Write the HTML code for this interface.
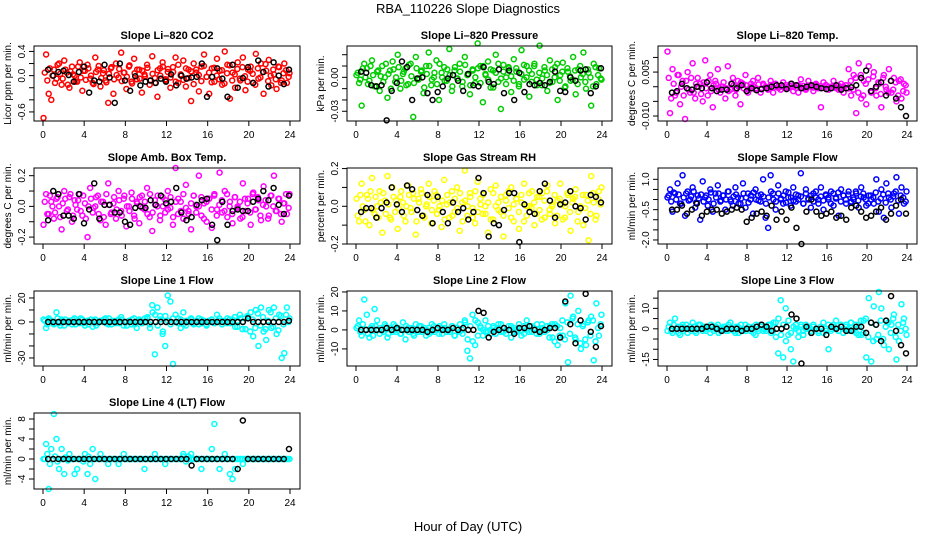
<!DOCTYPE html>
<html><head><meta charset="utf-8"><style>
html,body{margin:0;padding:0;background:#fff;}
svg{display:block;font-family:"Liberation Sans",sans-serif;}
</style></head><body>
<svg id="c" width="936" height="540" viewBox="0 0 936 540">
<text x="468" y="13" text-anchor="middle" font-size="13">RBA_110226  Slope Diagnostics</text>
<text x="468" y="531" text-anchor="middle" font-size="13">Hour of Day (UTC)</text>
</svg>
<script>
// ---- data (colored = all samples in two passes, black = hourly subset) ----
const co2C=[-70,35,-30,-40,10,-5,20,-15,25,5,-20,15,0,-10,22,-25,8,18,-5,-12,30,10,-18,4,-8,-45,12,-30,20,-3,38,5,-22,15,-10,28,-6,10,-28,2,18,-15,32,-4,-35,12,22,-8,6,-20,14,30,-12,0,25,-18,10,-42,20,5,-26,15,35,-2,-30,12,-10,28,8,-15,40,18,-38,5,-20,22,-8,30,-24,10,15,-12,36,-5,20,-30,8,26,-16,2,-22,14,-8,20,-12,4];
const co2C2=[5,-8,12,0,-12,18,3,-5,10,-15,7,2,-10,15,-3,8,-7,12,0,-14,6,16,-4,9,-11,3,14,-6,1,11,-9,5,-2,17,-13,4,10,-5,8,-1,13,-8,3,-12,9,0,15,-6,11,-3,6,-10,18,2,-7,12,-4,7,-14,10,1,-9,16,-2,5,-11,13,0,-6,9,-13,4,17,-8,2,11,-5,14,-1,-10,8,3,-15,12,-3,6,19,-9,0,10,-6,15,-12,4,9,-2];
const co2K=[10,0,6,8,1,-10,6,15,-28,-8,-10,18,-3,-45,20,-8,-25,-1,-16,-10,-8,-12,-5,-10,2,-16,0,-5,-3,-2,20,-35,-2,12,-5,-35,18,-20,-4,14,-12,25,6,-18,22,0,-14,10];
const presC=[2,-5,-25,12,8,-3,15,-8,5,-12,10,0,-18,6,14,-4,20,-10,3,8,-6,12,-35,18,-2,5,-14,10,22,-7,0,15,-20,4,9,-3,25,-12,6,-1,12,-8,18,2,-15,7,-5,30,10,-22,3,14,-9,6,20,-4,-28,11,0,8,-13,16,5,-6,24,-2,10,-17,3,12,-7,28,-1,6,-12,15,-4,9,-20,2,13,-8,5,-3,18,-15,7,0,22,-10,4,-25,12,-6,8,-2];
const presC2=[4,-2,8,0,-6,10,2,-8,6,1,-4,12,3,-10,7,0,9,-3,5,-7,11,1,-5,8,-1,6,-9,3,10,-2,4,-6,12,0,-3,7,2,-8,9,-1,5,-4,11,3,-7,6,0,8,-5,10,2,-2,7,-9,4,12,-1,5,-6,9,1,-3,8,-8,3,11,0,6,-4,10,-2,4,-7,9,2,-5,7,0,12,-3,5,-9,8,1,-2,6,-6,10,3,-4,7,0,-8,9,2,-1];
const presK=[5,4,-7,-8,-7,-38,-12,-5,14,9,-20,-1,0,-14,-20,-13,-8,-1,2,-3,-12,3,-7,-8,9,-4,-6,7,-14,6,-20,4,-13,-6,-7,-5,-7,-4,5,-12,-13,0,-3,6,7,-14,-8,8];
const tmpC=[120,-90,60,-30,40,-60,20,-110,50,-20,80,-40,30,10,-50,90,-30,40,-70,20,60,-20,0,-40,70,-10,30,-30,20,-60,10,40,-20,0,20,-10,30,-20,10,0,-10,20,-20,10,0,-10,15,-5,0,10,-15,5,-20,25,-5,-10,20,0,-15,10,-5,-70,15,5,-10,0,20,-5,-10,10,-20,5,60,-30,40,-90,80,-40,20,-60,70,-20,50,-30,10,-70,40,-10,60,-20,30,-50,20,-40,10,-20];
const tmpC2=[30,-40,10,-20,40,0,-30,20,-10,30,-20,10,0,-25,15,-5,20,-15,5,10,-10,0,15,-5,-15,10,5,-10,0,15,-5,5,-10,10,0,-5,8,-8,5,0,-6,6,-3,4,-4,2,-2,6,-5,3,0,-4,5,-2,3,-6,4,0,-3,5,-1,2,-4,6,0,-5,3,-2,4,-3,1,5,-6,20,-10,30,-20,40,-30,10,25,-15,35,-5,15,-25,30,0,-20,20,-10,15,-30,25,-15,5];
const tmpK=[-20,-15,10,-5,-10,0,-5,15,-5,-15,-10,-10,10,-5,5,-15,-5,-12,-8,-5,0,5,5,-8,10,5,-5,0,5,0,-5,-8,-5,5,-10,-5,-2,5,30,55,-15,0,15,-30,20,-40,-70,-100];
const ambC=[-12,8,-5,3,-8,5,0,-15,10,-3,6,-10,4,-2,8,-6,2,-20,12,-4,0,7,-9,3,-12,15,-5,2,-8,10,-3,5,-13,0,9,-6,3,-11,7,-2,12,-7,-16,4,0,-9,6,-4,10,-1,-12,25,-5,3,-8,14,-3,-15,7,0,20,-6,2,-10,5,-14,8,-2,22,-4,10,-7,3,-11,6,0,-8,15,-3,5,-12,9,-2,4,-9,13,0,-6,7,20,-3,5,-10,2,-5,8];
const ambC2=[3,-5,7,0,-4,6,-7,2,5,-2,8,-6,1,4,-3,7,-8,0,5,-1,6,-5,3,-7,8,1,-4,6,-2,4,-6,7,0,-3,5,-8,2,6,-1,3,-5,8,-4,1,7,-6,0,4,-2,6,-7,3,5,-3,8,-1,-5,2,7,-4,0,6,-8,3,5,-2,7,-6,1,4,-3,8,0,-5,6,-1,3,-7,5,2,-4,8,-2,6,-6,1,4,-8,7,0,-3,5,-5,2,8,-1];
const ambK=[-9,10,8,-6,-6,-8,8,-11,-2,15,-8,1,1,-4,-4,-10,-12,-1,0,-1,4,1,7,2,3,12,-4,-9,-7,1,4,5,-12,-22,3,-12,-3,-2,-3,-3,3,5,10,4,12,1,-5,7];
const rhC=[4,-8,12,-2,6,-10,15,-4,0,8,-14,3,16,-6,10,-3,-12,5,2,-8,11,-1,7,-15,4,9,-5,0,12,-9,3,6,-2,-11,14,1,-6,8,-3,10,-13,2,19,-5,7,-1,-9,13,4,-4,0,-14,9,-7,11,2,-3,-16,6,-1,10,-8,4,-12,2,12,-5,0,8,-10,5,-2,7,-6,11,-4,1,-9,3,12,-7,0,6,-13,4,9,-3,-1,-10,6,-18,16,2,-5,8,10];
const rhC2=[-5,6,0,-8,4,8,-2,5,-6,2,7,-4,1,-7,5,3,-1,8,-5,0,6,-3,4,-8,2,7,-6,1,5,-2,8,-4,0,3,-7,6,2,-5,4,-1,7,-8,3,0,5,-6,8,-3,1,6,-4,2,-7,7,0,-2,5,-5,3,8,-6,1,4,-3,6,-8,0,7,-1,2,-4,5,-7,3,8,-2,0,6,-5,4,1,-6,7,-3,2,5,-8,0,6,-1,3,-4,7,-7,4,1];
const rhK=[-3,-1,-1,-6,-1,2,10,1,-3,11,9,-2,-5,6,-9,5,-3,-9,2,-3,-1,-7,-3,15,7,-16,-9,-10,-2,7,7,-19,1,-3,-4,8,12,3,-6,1,2,8,0,-1,-7,6,5,2];
const sfC=[10,50,-60,30,80,-20,120,-80,40,0,60,-40,20,-100,90,10,-30,50,-60,30,70,-10,20,-50,40,0,-30,60,10,-20,80,-40,30,0,-70,50,20,-10,100,-90,-140,120,30,-50,70,0,-20,40,10,-30,60,-10,20,130,-20,50,0,-40,30,10,-20,60,-50,20,0,40,-30,10,-80,50,20,-20,40,-10,0,30,-40,60,10,-30,20,0,-20,100,-60,50,-90,80,10,-40,30,110,-70,60,-20,40];
const sfC2=[20,-10,35,0,25,-20,10,30,-5,15,40,-15,5,25,-10,20,0,35,-20,10,30,-5,20,0,40,-10,15,25,-20,5,30,10,-15,20,35,0,-5,25,15,-20,10,40,0,-10,30,5,20,-15,35,10,-5,25,0,15,-20,30,5,20,-10,40,0,15,-5,25,10,-20,30,5,35,-10,20,0,25,-15,10,40,-5,15,30,0,-20,20,10,35,-10,5,25,-15,30,0,15,40,-5,20,10,-10];
const sfK=[-50,-50,-30,-70,-50,-20,-80,-60,-50,-50,-70,-60,-50,-40,-50,-110,-90,-70,-60,-80,-30,-100,-60,-100,-40,-140,-220,-60,0,-60,-80,-70,-60,-90,-80,-100,-40,-30,-60,-90,-80,-60,-40,-100,-70,-30,0,-70];
const l1C=[2,-5,3,1,-2,8,-1,2,-3,0,1,-2,3,0,-1,2,-3,1,0,-4,2,-1,1,0,3,-2,0,1,-1,2,4,-3,0,1,-2,3,-5,2,-1,0,3,-2,14,-27,12,5,-10,-20,22,17,-35,6,3,-5,8,-3,1,2,-2,0,3,-1,1,-2,0,2,-1,6,1,-2,0,3,-1,2,-4,1,3,0,-6,4,8,-12,10,-20,12,-8,-15,10,-5,12,-10,6,-30,-26,12,3];
const l1C2=[1,-2,2,0,-1,3,-3,1,2,-1,0,2,-2,1,3,-1,0,-2,2,1,-3,0,1,2,-1,3,-2,0,1,-1,2,0,-3,1,2,-2,0,1,-1,3,4,-5,8,6,-3,2,-8,5,1,-2,3,0,-1,2,-2,1,0,3,-1,1,-2,2,0,-3,1,2,-1,0,3,-2,1,-1,2,0,4,-4,6,-6,3,5,-8,2,-5,7,-3,4,-6,1,8,-4,3,-7,5,-2,6,0];
const l1K=[0,0,0,0,0,0,0,0,0,0,0,0,0,0,0,0,0,0,0,0,0,0,0,0,0,0,0,0,0,0,0,0,0,0,0,0,0,0,0,3,0,0,0,0,0,0,0,1];
const l2C=[1,5,-3,16,8,-4,2,11,5,-2,0,3,-4,1,-1,2,0,-2,4,-5,1,0,-2,3,-1,2,0,-3,1,-1,2,0,-2,1,3,-1,0,2,-3,1,-1,0,5,-11,-15,8,-8,4,2,-3,5,-1,0,2,-2,1,3,-1,0,2,-4,1,-1,3,0,-2,5,2,-1,0,3,-2,1,-1,0,2,-4,3,-8,1,-3,14,-17,18,7,-5,10,-10,3,-8,5,7,-16,14,-3,8];
const l2C2=[2,-1,3,0,-2,1,-3,2,0,1,-1,2,-2,0,3,-1,1,-2,0,2,-1,1,-3,0,2,-1,1,0,-2,3,-1,0,2,-2,1,0,-1,2,-3,1,3,-2,4,-5,2,-6,5,-3,1,0,-1,2,-2,1,0,3,-1,1,-2,0,2,-1,0,1,-3,2,0,-1,2,1,-2,0,3,-1,2,-4,3,-6,2,-3,5,-5,4,-2,6,-4,3,-7,2,-5,4,-3,5,-6,1,3];
const l2K=[0,0,0,0,0,1,0,1,0,0,0,0,0,-1,0,1,0,0,1,0,1,0,0,10,9,-4,-1,0,1,0,-2,1,1,2,0,-1,0,1,1,-4,15,3,-7,5,19,-1,-9,2];
const l3C=[-1,3,-2,5,1,-3,2,0,-2,1,3,-1,0,2,-1,1,0,-2,1,0,2,-1,0,1,-1,3,0,-2,1,0,-1,2,0,-1,1,-3,0,2,-1,1,0,2,-1,3,-12,14,-14,10,-3,-10,-16,2,-4,1,-3,2,0,-1,1,0,-2,1,3,-1,-10,0,2,4,-1,1,0,2,-1,3,0,-2,1,-3,4,-14,15,-16,11,-5,18,10,-8,4,-10,2,7,-15,-6,12,5,-3];
const l3C2=[1,-1,2,0,-2,1,-1,2,0,-1,1,-2,2,0,1,-1,0,2,-1,1,-2,0,1,-1,2,0,-1,1,-2,2,0,-1,1,0,-2,2,-1,1,0,-1,2,-2,3,-4,5,-3,2,-6,4,-2,1,0,-1,2,-1,0,1,-2,2,0,-1,1,-2,0,2,-1,1,0,-1,2,-2,1,0,3,-1,2,-3,4,-2,5,-4,3,-6,2,-3,4,-5,1,3,-2,5,-4,2,-1,3,0];
const l3K=[0,0,0,0,0,0,0,1,1,0,-1,0,0,0,-1,0,0,1,2,1,-1,0,0,1,7,5,-17,1,-2,0,0,-3,1,0,1,-1,-1,1,1,-2,3,2,-6,4,16,-1,-8,-12];
const l4C=[0,3,-6,2,9,4,-2,2,-3,0,1,0,-3,-2,0,0,1,-3,-1,2,-4,0,1,0,0,-1,0,0,0,-1,0,1,0,0,0,0,0,0,0,-2,0,0,0,1,0,0,0,-1,0,0,0,0,0,0,1,0,0,1,0,0,0,-2,0,0,0,2,7,0,-2,0,1,0,-3,-4,-2,0,0,-1,0,0,0,0,0,0,0,0,0,0,0,0,0,0,0,0,0,0];
const l4C2=[0,1,-1,0,0.5,-0.5,0,0,0.3,-0.3,0,0,0,0,0,-0.5,0,0.5,0,0,0,0,0,0,0,0,0,0,0,0,0,0,0,0,0,0,0,0,0,0,0,0,0,0,0,0,0,0,0,0,0,0,0,0,0.5,-0.5,0.5,0,0,0,0,0,0,0,0,0,0,0,0,0,0,0,0,0,0,0,0,0,0,0,0,0,0,0,0,0,0,0,0,0,0,0,0,0,0,0];
const l4K=[0,0,0,0,0,0,0,0,0,0,0,0,0,0,0,0,0,0,0,0,0,0,0,0,0,0,0,0,-1.3,0,0,0,0,0,0,0,0,-2,7.7,0,0,0,0,0,0,0,0,2];
const xTicks=[0,4,8,12,16,20,24];

const svg=document.getElementById('c');
const NS='http://www.w3.org/2000/svg';
function mk(tag,attrs,parent){const e=document.createElementNS(NS,tag);for(const k in attrs)e.setAttribute(k,attrs[k]);(parent||svg).appendChild(e);return e;}

const cols=[{l:34,r:300},{l:347,r:612},{l:658,r:917}];
const rows=[{t:46,b:121},{t:168,b:244},{t:291,b:366},{t:413,b:489}];
const panels=[
 {id:'co2',title:'Slope Li\u2013820 CO2',yl:'Licor ppm per min.',c:0,r:0,col:'#ff0000',s:0.01,C:co2C,C2:co2C2,K:co2K,ymax:0.49,ymin:-0.75,ticks:[0.4,0.2,0,-0.2,-0.4,-0.6],labs:['0.4','0.0','-0.6'],labv:[0.4,0,-0.6]},
 {id:'pressure',title:'Slope Li\u2013820 Pressure',yl:'kPa per min.',c:1,r:0,col:'#00cc00',s:0.001,C:presC,C2:presC2,K:presK,ymax:0.0277,ymin:-0.0386,ticks:[0.02,0.01,0,-0.01,-0.02,-0.03],labs:['0.00','-0.03'],labv:[0,-0.03]},
 {id:'temp',title:'Slope Li\u2013820 Temp.',yl:'degrees C per min.',c:2,r:0,col:'#ff00ff',s:0.0001,C:tmpC,C2:tmpC2,K:tmpK,ymax:0.0139,ymin:-0.0117,ticks:[0.01,0.005,0,-0.005,-0.01],labs:['0.005','-0.010'],labv:[0.005,-0.01]},
 {id:'amb-temp',title:'Slope Amb. Box Temp.',yl:'degrees C per min.',c:0,r:1,col:'#ff00ff',s:0.01,C:ambC,C2:ambC2,K:ambK,ymax:0.25,ymin:-0.245,ticks:[0.2,0.1,0,-0.1,-0.2],labs:['0.2','0.0','-0.2'],labv:[0.2,0,-0.2]},
 {id:'rh',title:'Slope Gas Stream RH',yl:'percent per min.',c:1,r:1,col:'#ffff00',s:0.01,C:rhC,C2:rhC2,K:rhK,ymax:0.203,ymin:-0.2,ticks:[0.2,0.1,0,-0.1,-0.2],labs:['0.2','0.0','-0.2'],labv:[0.2,0,-0.2]},
 {id:'sample-flow',title:'Slope Sample Flow',yl:'ml/min per min.',c:2,r:1,col:'#0000ff',s:0.01,C:sfC,C2:sfC2,K:sfK,ymax:1.56,ymin:-2.2,ticks:[1,0.5,0,-0.5,-1,-1.5,-2],labs:['1.0','-0.5','-2.0'],labv:[1,-0.5,-2]},
 {id:'line1',title:'Slope Line 1 Flow',yl:'ml/min per min.',c:0,r:2,col:'#00ffff',s:1,C:l1C,C2:l1C2,K:l1K,ymax:25.8,ymin:-36.7,ticks:[20,10,0,-10,-20,-30],labs:['20','0','-30'],labv:[20,0,-30]},
 {id:'line2',title:'Slope Line 2 Flow',yl:'ml/min per min.',c:1,r:2,col:'#00ffff',s:1,C:l2C,C2:l2C2,K:l2K,ymax:20.5,ymin:-19,ticks:[20,10,0,-10],labs:['20','10','0','-10'],labv:[20,10,0,-10]},
 {id:'line3',title:'Slope Line 3 Flow',yl:'ml/min per min.',c:2,r:2,col:'#00ffff',s:1,C:l3C,C2:l3C2,K:l3K,ymax:18.5,ymin:-18.2,ticks:[15,10,5,0,-5,-10,-15],labs:['10','0','-15'],labv:[10,0,-15]},
 {id:'line4',title:'Slope Line 4 (LT) Flow',yl:'ml/min per min.',c:0,r:3,col:'#00ffff',s:1,C:l4C,C2:l4C2,K:l4K,ymax:9.2,ymin:-6,ticks:[8,6,4,2,0,-2,-4],labs:['8','4','0','-4'],labv:[8,4,0,-4]}
];

panels.forEach(p=>{
 const c=cols[p.c], r=rows[p.r];
 const g=mk('g',{});
 
 
 const x0=c.l+9, x1=c.r-10;
 const X=h=>x0+(x1-x0)*h/24;
 const Y=v=>r.t+(p.ymax-v)/(p.ymax-p.ymin)*(r.b-r.t);
 const t=mk('text',{x:(c.l+c.r)/2,y:r.t-7,'text-anchor':'middle','font-size':11,'font-weight':'bold'},g);
 t.textContent=p.title;
 
 
 const pts=mk('g',{fill:'none','stroke-width':1.5},g);
 
 
 const nC=p.C.length;
 p.C.forEach((v,i)=>{
  const h=0.05+i*23.9/(nC-1);
  const e=mk('circle',{cx:X(h),cy:Y(v*p.s),r:2.5,stroke:p.col},pts);
  
  
 });
 const nC2=p.C2.length;
 p.C2.forEach((v,i)=>{
  const h=0.17+i*23.7/(nC2-1);
  const e=mk('circle',{cx:X(h),cy:Y(v*p.s),r:2.5,stroke:p.col},pts);
  
  
 });
 const nK=p.K.length;
 p.K.forEach((v,i)=>{
  const h=0.5+i*23.4/(nK-1);
  const e=mk('circle',{cx:X(h),cy:Y(v*p.s),r:2.5,stroke:'#000'},pts);
  
  
 });
 const b=mk('rect',{x:c.l,y:r.t,width:c.r-c.l,height:r.b-r.t,fill:'none',stroke:'#000','stroke-width':1},g);
 
 
 const xa=mk('g',{},g);
 
 
 mk('line',{x1:X(0),x2:X(24),y1:r.b,y2:r.b,stroke:'#000'},xa);
 xTicks.forEach(h=>{
  mk('line',{x1:X(h),x2:X(h),y1:r.b,y2:r.b+5,stroke:'#000'},xa);
  const tl=mk('text',{x:X(h),y:r.b+17,'text-anchor':'middle','font-size':10},xa);
  tl.textContent=h;
  
  
 });
 const ya=mk('g',{},g);
 
 
 const tt=p.ticks;
 mk('line',{x1:c.l,x2:c.l,y1:Y(tt[0]),y2:Y(tt[tt.length-1]),stroke:'#000'},ya);
 tt.forEach(v=>mk('line',{x1:c.l-5,x2:c.l,y1:Y(v),y2:Y(v),stroke:'#000'},ya));
 p.labs.forEach((s,i)=>{
  const yy=Y(p.labv[i]);
  const tl=mk('text',{x:c.l-9,y:yy,'text-anchor':'middle','font-size':10,transform:`rotate(-90 ${c.l-9} ${yy})`},ya);
  tl.textContent=s;
  
  
 });
 const ym=(r.t+r.b)/2, yx=c.l-23;
 const yt=mk('text',{x:yx,y:ym,'text-anchor':'middle','font-size':10,transform:`rotate(-90 ${yx} ${ym})`},g);
 yt.textContent=p.yl;
 
 
});
</script>
</body></html>
